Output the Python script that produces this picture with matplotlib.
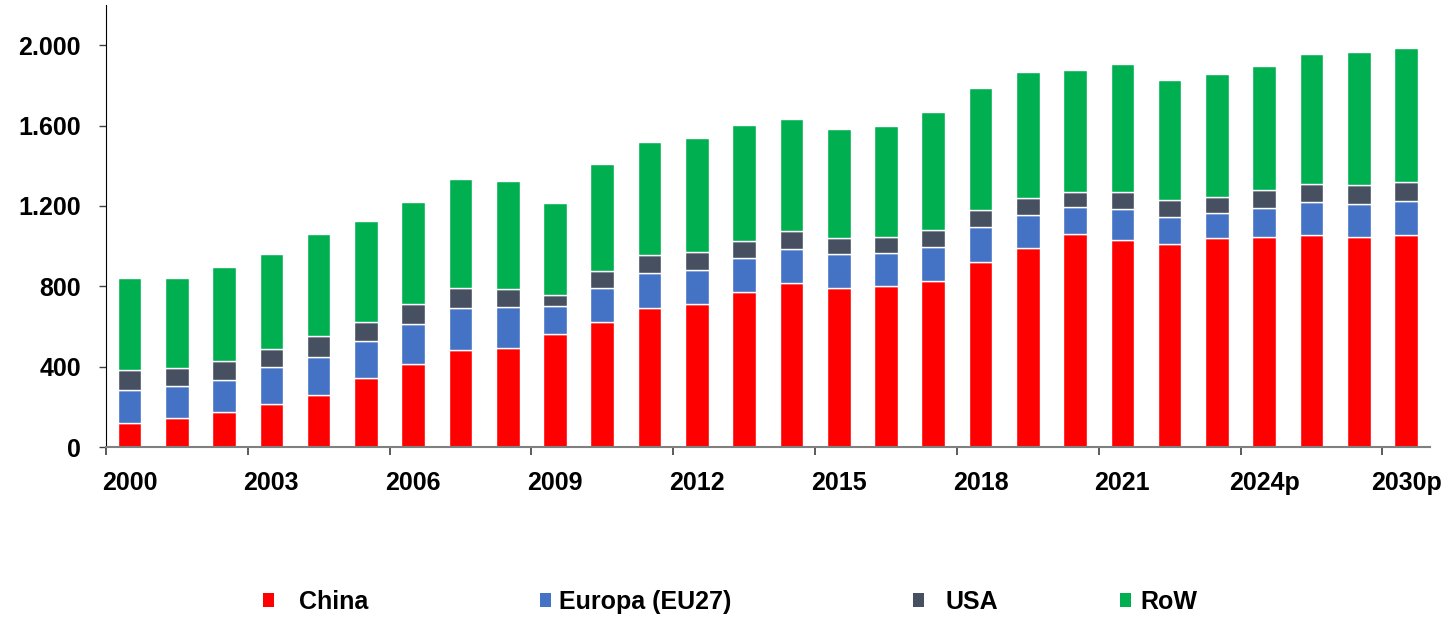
import matplotlib
matplotlib.use("Agg")
import matplotlib.pyplot as plt
import numpy as np
from matplotlib.patches import Patch
from matplotlib.ticker import FuncFormatter

plt.rcParams['font.family'] = ['Liberation Sans', 'DejaVu Sans']

years = ["2000", "2001", "2002", "2003", "2004", "2005", "2006", "2007", "2008", "2009",
         "2010", "2011", "2012", "2013", "2014", "2015", "2016", "2017", "2018", "2019",
         "2020", "2021", "2022", "2023", "2024p", "2026p", "2028p", "2030p"]
china = [119, 144, 174, 214, 258, 343, 412, 482, 495, 561, 621, 691, 710, 773, 818, 793,
         801, 826, 922, 990, 1060, 1030, 1010, 1040, 1045, 1055, 1045, 1055]
europa = [166, 161, 161, 183, 192, 187, 199, 210, 201, 139, 172, 177, 171, 168, 169, 167,
          166, 171, 171, 163, 136, 152, 136, 126, 146, 162, 166, 169]
usa = [99, 87, 91, 93, 101, 91, 99, 100, 89, 58, 83, 88, 89, 86, 89, 80,
       80, 83, 86, 87, 71, 88, 81, 79, 87, 91, 92, 94]
row = [457, 451, 472, 472, 511, 503, 507, 544, 538, 454, 532, 564, 570, 574, 554, 545,
       551, 588, 606, 625, 608, 636, 598, 610, 616, 646, 661, 666]

series = [("China", china, "#FF0000"),
          ("Europa (EU27)", europa, "#4472C4"),
          ("USA", usa, "#475061"),
          ("RoW", row, "#00B050")]

fig = plt.figure(figsize=(14.5, 6.17), dpi=100)
ax = fig.add_axes([0.073, 0.2755, 0.913, 0.7165])

x = np.arange(len(years))
bottom = np.zeros(len(years))
for name, vals, col in series:
    v = np.array(vals, dtype=float)
    ax.bar(x, v, width=0.5, bottom=bottom, color=col, edgecolor="white", linewidth=1.0)
    bottom += v

ax.set_xlim(-0.5, len(years) - 0.5)
ax.set_ylim(0, 2200)
ax.set_yticks(np.arange(0, 2001, 400))
ax.yaxis.set_major_formatter(FuncFormatter(lambda v, p: f"{int(v):,}".replace(",", ".")))

# label every third category, ticks at category boundaries
lab_idx = list(range(0, len(years), 3))
ax.set_xticks(lab_idx)
ax.set_xticklabels([years[i] for i in lab_idx])
ax.tick_params(axis='x', length=0, pad=17, labelsize=18)
ax.set_xticks([i - 0.5 for i in range(0, len(years) + 1, 3)], minor=True)
ax.tick_params(axis='x', which='minor', length=6, width=1.2, color="#404040")
ax.tick_params(axis='y', length=5, width=1, labelsize=18, pad=13, color="#404040")
for t in ax.get_xticklabels() + ax.get_yticklabels():
    t.set_fontweight('bold')

ax.spines['top'].set_visible(False)
ax.spines['right'].set_visible(False)
ax.spines['bottom'].set_color("#808080")
ax.spines['bottom'].set_linewidth(1.5)
ax.spines['left'].set_color("black")

# legend entries placed individually
leg_pos = [(263, 1.0), (540, 0.3), (913, 0.85), (1120, 0.35)]
for (name, vals, col), (px, pad) in zip(series, leg_pos):
    lg = fig.legend(handles=[Patch(facecolor=col, edgecolor='none')], labels=[name],
                    loc='center left', bbox_to_anchor=(px / 1450, 1 - 602 / 617),
                    frameon=False, handlelength=0.45, handleheight=0.45,
                    handletextpad=pad, borderaxespad=0, borderpad=0,
                    prop={'weight': 'bold', 'size': 18})

fig.savefig("out.png", dpi=100)
